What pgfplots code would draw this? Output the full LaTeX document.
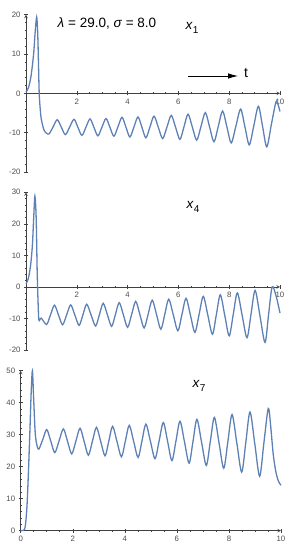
\documentclass[border=0pt]{standalone}
\usepackage{pgfplots}
\pgfplotsset{compat=1.18}
\usetikzlibrary{arrows.meta}
\usepackage{fontspec}
\setmainfont{Liberation Sans}
\definecolor{mblue}{rgb}{0.368,0.507,0.71}
\definecolor{axgray}{gray}{0.25}
\definecolor{tickgray}{gray}{0.3}

\pgfplotsset{
 mstyle/.style={
  scale only axis,
  width=254pt,
  xmin=0, xmax=10,
  axis line style={axgray, line width=0.6pt, -},
  tick style={axgray, line width=0.5pt},
  major tick length=4pt, minor tick length=2pt,
  tick align=inside,
  minor x tick num=3,
  minor y tick num=4,
  tick label style={font=\fontsize{7.8}{9}\selectfont, text=tickgray},
  /pgf/number format/assume math mode=true,
  hide obscured x ticks=false, hide obscured y ticks=false,
  clip=false,
 },
 curve/.style={mblue, line width=1.3pt, smooth, no marks},
}

\begin{document}
\begin{tikzpicture}
\path[use as bounding box] (0,0) rectangle (294pt,550pt);

% Panel 1: x1
\begin{axis}[mstyle, at={(26pt,378pt)}, anchor=south west, height=157.3pt,
  ymin=-20, ymax=20, axis lines=middle,
  xtick={2,4,6,8,10}, ytick={-20,-10,0,10,20}]
\addplot[curve] coordinates {
(0,0.3) (0.1,1.5) (0.2,4.5) (0.3,10) (0.36,15.5) (0.42,19.4) (0.46,15.5) (0.49,8)
(0.52,0) (0.56,-4) (0.6,-6.5) (0.7,-9.2) (0.8,-10.1) (0.91,-10.3)
(1.07,-8.5) (1.23,-6.7) (1.39,-8.6) (1.55,-10.5) (1.72,-8.55) (1.89,-6.6)
(2.045,-8.65) (2.20,-10.7) (2.36,-8.6) (2.52,-6.5) (2.675,-8.65) (2.83,-10.8)
(2.99,-8.6) (3.15,-6.4) (3.305,-8.65) (3.46,-10.9) (3.62,-8.5) (3.78,-6.1)
(3.935,-8.6) (4.09,-11.1) (4.25,-8.55) (4.41,-6.0) (4.565,-8.65) (4.72,-11.3)
(4.88,-8.55) (5.04,-5.8) (5.21,-8.65) (5.38,-11.5) (5.55,-8.55) (5.72,-5.6)
(5.89,-8.65) (6.06,-11.7) (6.22,-8.5) (6.38,-5.3) (6.55,-8.6) (6.72,-11.9)
(6.89,-8.4) (7.06,-4.9) (7.23,-8.6) (7.40,-12.3) (7.57,-8.4) (7.74,-4.5)
(7.91,-8.55) (8.08,-12.6) (8.265,-8.3) (8.45,-4.0) (8.62,-8.55) (8.79,-13.1)
(8.97,-8.2) (9.15,-3.3) (9.315,-8.45) (9.48,-13.6) (9.66,-7.9) (9.84,-2.2)
(9.92,-2.8) (10.0,-4.6)
};
\end{axis}

% Panel 2: x4
\begin{axis}[mstyle, at={(26pt,200pt)}, anchor=south west, height=157.7pt,
  ymin=-20, ymax=30, axis lines=middle,
  xtick={2,4,6,8,10}, ytick={-20,-10,0,10,20,30}]
\addplot[curve] coordinates {
(0,1.0) (0.09,2.6) (0.18,6.8) (0.25,13) (0.3,21.4) (0.35,28.8) (0.40,22)
(0.44,5) (0.48,-6) (0.51,-10.6) (0.6,-9.9) (0.81,-11.9)
(0.965,-8.85) (1.12,-5.8) (1.28,-8.9) (1.44,-12.0) (1.60,-8.85) (1.76,-5.7)
(1.925,-8.95) (2.09,-12.2) (2.24,-8.85) (2.39,-5.5) (2.565,-8.95) (2.74,-12.4)
(2.89,-8.8) (3.04,-5.2) (3.205,-8.85) (3.37,-12.5) (3.52,-8.75) (3.67,-5.0)
(3.835,-8.9) (4.00,-12.8) (4.16,-8.7) (4.32,-4.6) (4.485,-8.8) (4.65,-13.0)
(4.81,-8.6) (4.97,-4.2) (5.14,-8.8) (5.31,-13.4) (5.465,-8.65) (5.62,-3.9)
(5.80,-8.9) (5.98,-13.9) (6.14,-8.75) (6.30,-3.6) (6.475,-9.0) (6.65,-14.4)
(6.815,-8.7) (6.98,-3.0) (7.16,-9.0) (7.34,-15.0) (7.495,-8.75) (7.65,-2.5)
(7.825,-9.0) (8.00,-15.5) (8.16,-8.7) (8.32,-1.9) (8.51,-9.0) (8.70,-16.1)
(8.86,-8.6) (9.02,-1.1) (9.215,-9.35) (9.41,-17.6) (9.55,-8.8) (9.69,0.0)
(9.85,-3) (10,-8.3)
};
\end{axis}

% Panel 3: x7
\begin{axis}[mstyle, at={(20.7pt,19.3pt)}, anchor=south west, width=260.3pt, height=160pt,
  ymin=0, ymax=50, axis lines=left,
  xtick={0,2,4,6,8,10}, ytick={0,10,20,30,40,50}]
\addplot[curve] coordinates {
(0,0) (0.1,0.1) (0.15,0.5) (0.19,2.3) (0.24,7.5) (0.29,16.8) (0.35,30.3)
(0.40,42.7) (0.45,50) (0.50,40.7) (0.56,30.3) (0.63,26.5) (0.70,25.5)
(0.85,28.55) (1.00,31.6) (1.155,28.0) (1.31,24.4) (1.475,28.1) (1.64,31.8)
(1.80,27.9) (1.96,24.0) (2.12,28.0) (2.28,32.0) (2.44,27.8) (2.60,23.6)
(2.755,27.95) (2.91,32.3) (3.075,27.85) (3.24,23.4) (3.385,28.0) (3.53,32.6)
(3.70,27.85) (3.87,23.1) (4.02,28.0) (4.17,32.9) (4.34,27.9) (4.51,22.9)
(4.66,28.1) (4.81,33.3) (4.985,27.9) (5.16,22.5) (5.32,28.15) (5.48,33.8)
(5.645,27.85) (5.81,21.9) (5.965,28.05) (6.12,34.2) (6.295,27.65) (6.47,21.1)
(6.62,27.95) (6.77,34.8) (6.95,27.6) (7.13,20.4) (7.285,27.9) (7.44,35.4)
(7.62,27.45) (7.80,19.5) (7.96,27.9) (8.12,36.3) (8.305,27.3) (8.49,18.3)
(8.65,27.7) (8.81,37.1) (8.995,27.05) (9.18,17.0) (9.345,27.6) (9.51,38.2)
(9.6,33) (9.7,24) (9.8,18.5) (9.9,15.5) (10,14.2)
};
\end{axis}

% annotations
\node[font=\fontsize{13.5}{15}\selectfont] at (107pt,527pt) {\textit{λ} = 29.0, \textit{σ} = 8.0};
\node[font=\fontsize{13.5}{15}\selectfont] at (192pt,522pt) {\textit{x}\raisebox{-0.45ex}{\fontsize{10}{10}\selectfont 1}};
\draw[-{Latex[length=10pt,width=5.5pt]}, line width=0.8pt] (188pt,474pt) -- (238pt,474pt);
\node[font=\fontsize{14}{14}\selectfont] at (246pt,477pt) {t};
\node[font=\fontsize{13.5}{15}\selectfont] at (193pt,343pt) {\textit{x}\raisebox{-0.45ex}{\fontsize{10}{10}\selectfont 4}};
\node[font=\fontsize{13.5}{15}\selectfont] at (199pt,164pt) {\textit{x}\raisebox{-0.45ex}{\fontsize{10}{10}\selectfont 7}};
\end{tikzpicture}
\end{document}
